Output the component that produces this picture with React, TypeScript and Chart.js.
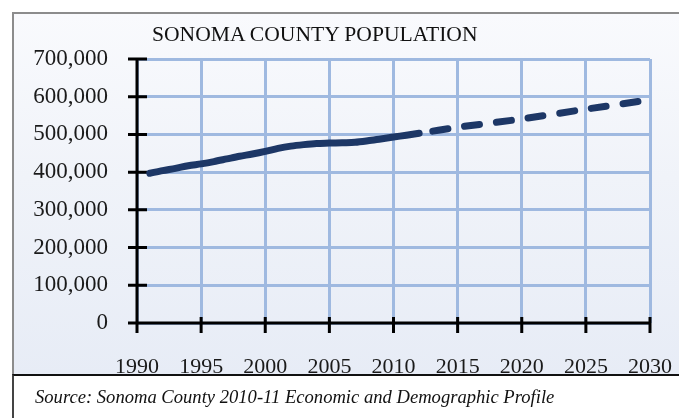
import React, { useEffect, useRef } from "react";
import { Chart, registerables } from "chart.js";

Chart.register(...registerables);

const TITLE = "SONOMA COUNTY POPULATION";
const SOURCE = "Source: Sonoma County 2010-11 Economic and Demographic Profile";

const historicalYears = [1991, 1992, 1993, 1994, 1995, 1996, 1997, 1998, 1999, 2000, 2001, 2002, 2003, 2004, 2005, 2006, 2007, 2008, 2009, 2010, 2011, 2012];
const historicalPop = [397000, 404000, 410000, 417000, 422000, 428000, 435000, 442000, 448000, 455000, 463000, 469000, 473000, 476000, 477000, 478000, 479000, 483000, 488000, 493000, 498000, 503000];

const projectedYears = [2012, 2015, 2020, 2025, 2030];
const projectedPop = [503000, 519000, 541000, 567000, 592000];

const xTickYears = [1990, 1995, 2000, 2005, 2010, 2015, 2020, 2025, 2030];
const yTickValues = [0, 100000, 200000, 300000, 400000, 500000, 600000, 700000];

const LINE_COLOR = "#1d3766";
const GRID_COLOR = "#9fb9e0";
const FONT = "'Liberation Serif', 'Times New Roman', serif";

const axesPlugin = {
  id: "crossAxes",
  beforeDatasetsDraw(chart: any) {
    const { ctx, chartArea, scales } = chart;
    const xs = scales.x;
    const ys = scales.y;
    const { left, right, top, bottom } = chartArea;
    ctx.save();
    ctx.strokeStyle = "#000000";
    ctx.lineWidth = 3;
    ctx.lineCap = "butt";
    ctx.beginPath();
    ctx.moveTo(left, top - 1);
    ctx.lineTo(left, bottom + 10);
    ctx.moveTo(left - 9, bottom);
    ctx.lineTo(right + 1.5, bottom);
    yTickValues.forEach((v) => {
      const y = ys.getPixelForValue(v);
      ctx.moveTo(left - 9, y);
      ctx.lineTo(left + 10, y);
    });
    xTickYears.forEach((v) => {
      const x = xs.getPixelForValue(v);
      ctx.moveTo(x, bottom - 6);
      ctx.lineTo(x, bottom + 10);
    });
    ctx.stroke();
    ctx.restore();
  },
};

export default function App() {
  const canvasRef = useRef<HTMLCanvasElement | null>(null);

  useEffect(() => {
    if (!canvasRef.current) return;
    const chart = new Chart(canvasRef.current, {
      type: "line",
      data: {
        datasets: [
          {
            label: "Historical",
            data: historicalYears.map((x, i) => ({ x, y: historicalPop[i] })),
            borderColor: LINE_COLOR,
            borderWidth: 7,
            borderCapStyle: "round",
            borderJoinStyle: "round",
            pointRadius: 0,
            tension: 0.3,
            fill: false,
          },
          {
            label: "Projected",
            data: projectedYears.map((x, i) => ({ x, y: projectedPop[i] })),
            borderColor: LINE_COLOR,
            borderWidth: 7,
            borderCapStyle: "round",
            borderJoinStyle: "round",
            borderDash: [15, 17],
            borderDashOffset: 18,
            pointRadius: 0,
            tension: 0.2,
            fill: false,
          },
        ],
      },
      options: {
        responsive: false,
        animation: false,
        events: [],
        layout: { padding: { left: 0, top: 59, right: 29, bottom: 35 } },
        plugins: {
          legend: { display: false },
          title: { display: false },
          tooltip: { enabled: false },
        },
        scales: {
          x: {
            type: "linear",
            min: 1990,
            max: 2030,
            afterBuildTicks: (scale: any) => {
              scale.ticks = xTickYears.map((v) => ({ value: v }));
            },
            afterFit: (scale: any) => {
              scale.height = 60;
            },
            grid: { color: GRID_COLOR, lineWidth: 3, drawTicks: true, tickLength: 28, tickColor: "rgba(0,0,0,0)" },
            border: { display: false },
            ticks: {
              padding: 3,
              maxRotation: 0,
              autoSkip: false,
              color: "#1a1a1a",
              font: { family: FONT, size: 22 },
              callback: (v: any) => String(v),
            },
          },
          y: {
            type: "linear",
            min: 0,
            max: 700000,
            afterBuildTicks: (scale: any) => {
              scale.ticks = yTickValues.map((v) => ({ value: v }));
            },
            afterFit: (scale: any) => {
              scale.width = 137;
            },
            grid: { color: GRID_COLOR, lineWidth: 3, drawTicks: false },
            border: { display: false },
            ticks: {
              padding: 29,
              color: "#1a1a1a",
              font: { family: FONT, size: 23 },
              callback: (v: any) => Number(v).toLocaleString("en-US"),
            },
          },
        },
      },
      plugins: [axesPlugin],
    });
    return () => chart.destroy();
  }, []);

  return (
    <div style={{ position: "fixed", left: 0, top: 0, width: 679, height: 418, overflow: "hidden", background: "#ffffff" }}>
      <div
        style={{
          position: "absolute",
          left: 12,
          top: 12,
          width: 720,
          height: 362,
          borderTop: "2px solid #8c8c8c",
          borderLeft: "2px solid #8c8c8c",
          background: "linear-gradient(180deg, #f9fafd 0%, #f0f3f9 45%, #e7ecf6 100%)",
        }}
      />
      <div
        style={{
          position: "absolute",
          left: 12,
          top: 374,
          width: 720,
          height: 80,
          borderTop: "2px solid #111111",
          borderLeft: "2px solid #444444",
          background: "#ffffff",
        }}
      />
      <canvas ref={canvasRef} width={679} height={418} style={{ position: "absolute", left: 0, top: 0, width: 679, height: 418 }} />
      <div
        style={{
          position: "absolute",
          left: 152,
          top: 24,
          fontFamily: FONT,
          fontSize: 21.6,
          lineHeight: "21.6px",
          color: "#111111",
          whiteSpace: "nowrap",
        }}
      >
        {TITLE}
      </div>
      <div
        style={{
          position: "absolute",
          left: 35,
          top: 388,
          fontFamily: FONT,
          fontSize: 18.6,
          fontStyle: "italic",
          lineHeight: "18.6px",
          color: "#111111",
          whiteSpace: "nowrap",
        }}
      >
        {SOURCE}
      </div>
    </div>
  );
}
